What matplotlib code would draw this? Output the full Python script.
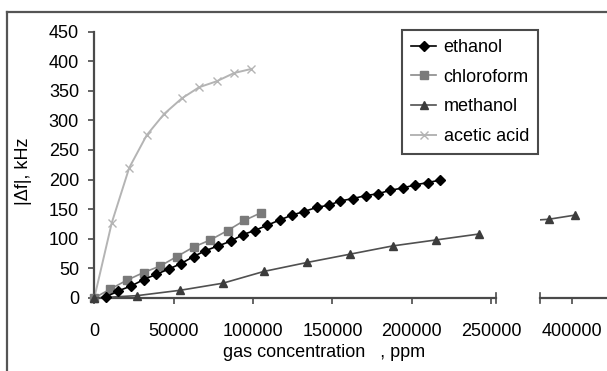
import matplotlib
matplotlib.use("Agg")
import matplotlib.pyplot as plt
from matplotlib.lines import Line2D

plt.rcParams["font.family"] = ["Liberation Sans", "DejaVu Sans"]

# values
ethanol_x = [7500, 15000, 23000, 31000, 39000, 47000, 54500, 62500, 70000, 78000,
             86000, 93500, 101000, 109000, 117000, 124500, 132000, 140000, 148000, 155000,
             163000, 171000, 178500, 186500, 194500, 202000, 210000, 217500]
ethanol_y = [2, 12, 20, 31, 40, 49, 58, 70, 80, 88,
             96, 107, 114, 123, 132, 140, 146, 153, 157, 164,
             168, 173, 176, 182, 186, 191, 195, 199]

chloroform_x = [0, 10000, 20500, 31000, 41500, 52000, 62500, 73000, 84000, 94500, 105000]
chloroform_y = [0, 15, 30, 43, 54, 70, 86, 98, 114, 131, 144]

methanol_x = [0, 27000, 54000, 81000, 107000, 134000, 161000, 188000, 215000, 242000, 385500, 402000]
methanol_y = [0, 4, 13, 25, 45, 60, 74, 88, 98, 108, 133, 140]

acetic_x = [0, 11000, 22000, 33000, 44000, 55000, 66000, 77000, 88000, 99000]
acetic_y = [0, 127, 220, 275, 311, 337, 356, 366, 380, 387]

left_ticks = [0, 50000, 100000, 150000, 200000, 250000]
right_ticks = [400000]
y_ticks = [0, 50, 100, 150, 200, 250, 300, 350, 400, 450]

W, H = 607, 371
fig = plt.figure(figsize=(W / 100, H / 100), dpi=100)

axis_col = "#4a4a4a"
tick_fs = 13

# left part of broken x axis and the short right part
ax = fig.add_axes([94.3 / W, 1 - 298 / H, (496 - 94.3) / W, 266.4 / H])
ax2 = fig.add_axes([540 / W, 1 - 298 / H, (W - 540) / W, 266.4 / H])

styles = {
    "ethanol": dict(color="black", marker="D", ms=5, mfc="black", mec="black", lw=1.2),
    "chloroform": dict(color="#8a8a8a", marker="s", ms=5.5, mfc="#7a7a7a", mec="#7a7a7a", lw=1.2),
    "methanol": dict(color="#505050", marker="^", ms=6, mfc="#3c3c3c", mec="#3c3c3c", lw=1.2),
    "acetic acid": dict(color="#b4b4b4", marker="x", ms=6, mew=1.0, lw=1.4),
}

n_left = 10  # methanol points before the break
ax.plot(ethanol_x, ethanol_y, clip_on=False, zorder=4, **styles["ethanol"])
ax.plot(chloroform_x, chloroform_y, clip_on=False, zorder=3, **styles["chloroform"])
ax.plot(methanol_x[:n_left], methanol_y[:n_left], clip_on=False, zorder=3, **styles["methanol"])
ax.plot(acetic_x, acetic_y, clip_on=False, zorder=2, **styles["acetic acid"])
ax2.plot(methanol_x, methanol_y, **styles["methanol"])

for a in (ax, ax2):
    a.set_ylim(0, 450)
    a.spines["top"].set_visible(False)
    a.spines["right"].set_visible(False)
    a.spines["bottom"].set_color(axis_col)
    a.spines["bottom"].set_linewidth(1.6)
    a.tick_params(axis="x", direction="out", length=4.3, width=1.2, color=axis_col,
                  labelsize=tick_fs, pad=13.5)
    a.patch.set_alpha(0)

ax.set_xlim(0, 253000)
ax.set_xticks(left_ticks)
ax.set_xticklabels([str(t) for t in left_ticks])
ax.set_yticks(y_ticks)
ax.spines["left"].set_color(axis_col)
ax.spines["left"].set_linewidth(1.6)
ax.tick_params(axis="y", direction="out", length=4, width=1.2, color=axis_col,
               labelsize=tick_fs, pad=7)

ax2.set_xlim(380000, 422200)
ax2.set_xticks(right_ticks)
ax2.set_xticklabels([str(t) for t in right_ticks])
ax2.spines["left"].set_visible(False)
ax2.set_yticks([])

# break marks on the x axis
brk = dict(color=axis_col, lw=1.2, clip_on=False)
ax.plot([1, 1], [-0.02, 0.02], transform=ax.transAxes, **brk)
ax2.plot([0, 0], [-0.02, 0.02], transform=ax2.transAxes, **brk)

fig.text(23 / W, 1 - 171 / H, "|\u0394f|, kHz", rotation=90, ha="center", va="center",
         fontsize=13)
fig.text(324 / W, 1 - 357 / H, "gas concentration   , ppm", ha="center", va="baseline",
         fontsize=13)

handles = [Line2D([], [], **styles[k]) for k in styles]
leg = fig.legend(handles, list(styles.keys()), loc="upper left",
                 bbox_to_anchor=(402 / W, 1 - 30 / H), bbox_transform=fig.transFigure,
                 borderaxespad=0, fontsize=13, handlelength=1.4, handletextpad=0.4,
                 labelspacing=0.7, borderpad=0.5, fancybox=False, framealpha=1)
leg.get_frame().set_edgecolor(axis_col)
leg.get_frame().set_linewidth(1.5)

# outer frame of the picture, cropped at right and bottom
fig.add_artist(Line2D([7.3 / W, 7.3 / W], [0, 1 - 11.7 / H], color="#555555", lw=1.6,
                      transform=fig.transFigure))
fig.add_artist(Line2D([7.3 / W, 1], [1 - 11.7 / H, 1 - 11.7 / H], color="#555555", lw=1.6,
                      transform=fig.transFigure))

fig.savefig("out.png", dpi=100)
